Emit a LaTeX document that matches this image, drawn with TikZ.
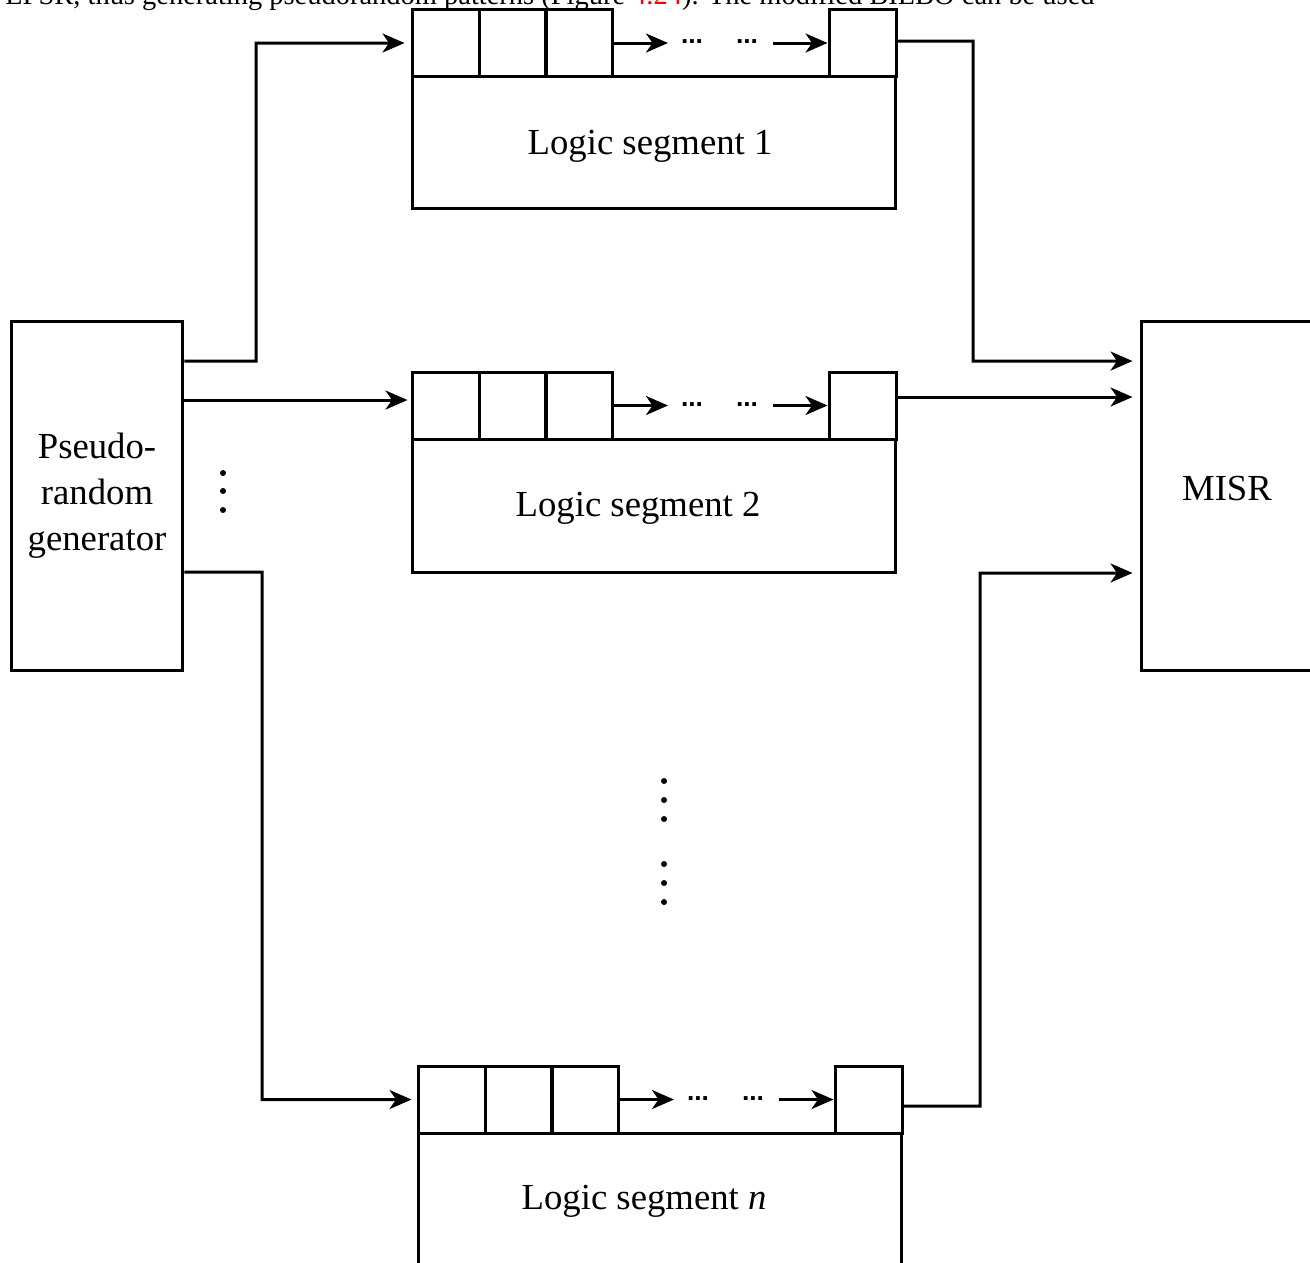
\documentclass[tikz,border=0pt]{standalone}
\usepackage{fontspec}
\setmainfont{Liberation Serif}
\setsansfont{Liberation Sans}
\usetikzlibrary{arrows.meta}

\tikzset{
  wire/.style={line width=0.06cm},
  arr/.style={wire, -{Stealth[length=0.44cm,width=0.38cm,inset=0.13cm]}},
  blk/.style={draw, line width=0.06cm, inner sep=0pt},
  cell/.style={blk, minimum width=1.34cm, minimum height=1.34cm},
  body/.style={blk, minimum width=9.68cm, minimum height=2.66cm},
  side/.style={blk, minimum width=3.44cm, minimum height=7cm, align=center,
    font=\fontsize{20.9pt}{26.2pt}\selectfont},
  lbl/.style={inner sep=0pt, font=\fontsize{20.9pt}{26.2pt}\selectfont},
  gap/.style={inner sep=0pt, font=\fontsize{15pt}{17pt}\selectfont\sffamily\bfseries},
  dot/.style={fill=black, circle, inner sep=0pt, minimum size=0.12cm}
}

\begin{document}
\begin{tikzpicture}[x=0.02cm, y=-0.02cm]
  \useasboundingbox (0,0) rectangle (1310,1262);
  \clip (0,0) rectangle (1310,1262);

  % running text line of the page
  \node[anchor=base west, inner sep=0pt, font=\fontsize{16.2pt}{19pt}\selectfont]
    (runtext) at (5,4)
    {LFSR, thus generating pseudorandom patterns (Figure \textcolor{red}{4.24}). The modified BILBO can be used};

  % generator and signature register
  \node[side] (PRG) at (97,496) {Pseudo-\\random\\generator};
  \node[side] (MISR) at (1227,496) {\raisebox{0.3cm}{MISR}};

  % logic segment 1
  \node[cell] (c11) at (445.5,43) {};
  \node[cell] (c12) at (512.5,43) {};
  \node[cell] (c13) at (579,43) {};
  \node[cell] (c1L) at (862.5,43) {};
  \node[body] (b1) at (654,142.5) {};
  \node[lbl] (t1) at (650,146) {Logic segment 1};
  \coordinate (e1) at (668,43);
  \coordinate (s1) at (773,43);
  \node[gap] (g1a) at (692,42) {...};
  \node[gap] (g1b) at (747,42) {...};
  \draw[arr] (c13.east) -- (e1);
  \draw[arr] (s1) -- (c1L.west);

  % logic segment 2
  \node[cell] (c21) at (445.5,405.5) {};
  \node[cell] (c22) at (512.5,405.5) {};
  \node[cell] (c23) at (579,405.5) {};
  \node[cell] (c2L) at (862.5,405.5) {};
  \node[body] (b2) at (654,505.5) {};
  \node[lbl] (t2) at (638,508) {Logic segment 2};
  \coordinate (e2) at (668,405.5);
  \coordinate (s2) at (773,405.5);
  \node[gap] (g2a) at (692,404.5) {...};
  \node[gap] (g2b) at (747,404.5) {...};
  \draw[arr] (c23.east) -- (e2);
  \draw[arr] (s2) -- (c2L.west);

  % logic segment n
  \node[cell] (cn1) at (451.5,1099.5) {};
  \node[cell] (cn2) at (518.5,1099.5) {};
  \node[cell] (cn3) at (585,1099.5) {};
  \node[cell] (cnL) at (868.5,1099.5) {};
  \node[body] (bn) at (660,1199.5) {};
  \node[lbl] (tn) at (644,1201) {Logic segment \textit{n}};
  \coordinate (en) at (674,1099.5);
  \coordinate (sn) at (779,1099.5);
  \node[gap] (gna) at (698,1098.5) {...};
  \node[gap] (gnb) at (753,1098.5) {...};
  \draw[arr] (cn3.east) -- (en);
  \draw[arr] (sn) -- (cnL.west);

  % generator outputs
  \coordinate (p1) at ([yshift=2.7cm]PRG.east);
  \coordinate (p2) at ([yshift=1.92cm]PRG.east);
  \coordinate (pn) at ([yshift=-1.52cm]PRG.east);
  \draw[arr, shorten >=0.12cm] (p1) -- (256,361) |- (c11.west);
  \draw[arr, shorten >=0.06cm] (p2) -- (p2 -| c21.west);
  \draw[arr, shorten >=0.1cm] (pn) -- (262,572) |- (cn1.west);

  % segment outputs into the MISR
  \coordinate (m1) at ([yshift=2.7cm]MISR.west);
  \coordinate (q2) at ([yshift=0.17cm]c2L.east);
  \coordinate (m3) at ([yshift=-1.54cm]MISR.west);
  \coordinate (qn) at ([yshift=-0.13cm]cnL.east);
  \draw[arr, shorten >=0.14cm] ([yshift=0.04cm]c1L.east) -- (973,41) |- (m1);
  \draw[arr, shorten >=0.14cm] (q2) -- (q2 -| MISR.west);
  \draw[arr, shorten >=0.14cm] (qn) -- (980,1106) |- (m3);

  % ellipsis dots
  \node[dot] (v1) at (223,473) {};
  \node[dot] (v2) at (223,491) {};
  \node[dot] (v3) at (223,510) {};
  \node[dot] (w1) at (664,781) {};
  \node[dot] (w2) at (664,800) {};
  \node[dot] (w3) at (664,819) {};
  \node[dot] (w4) at (664,864) {};
  \node[dot] (w5) at (664,883) {};
  \node[dot] (w6) at (664,902) {};
\end{tikzpicture}
\end{document}
